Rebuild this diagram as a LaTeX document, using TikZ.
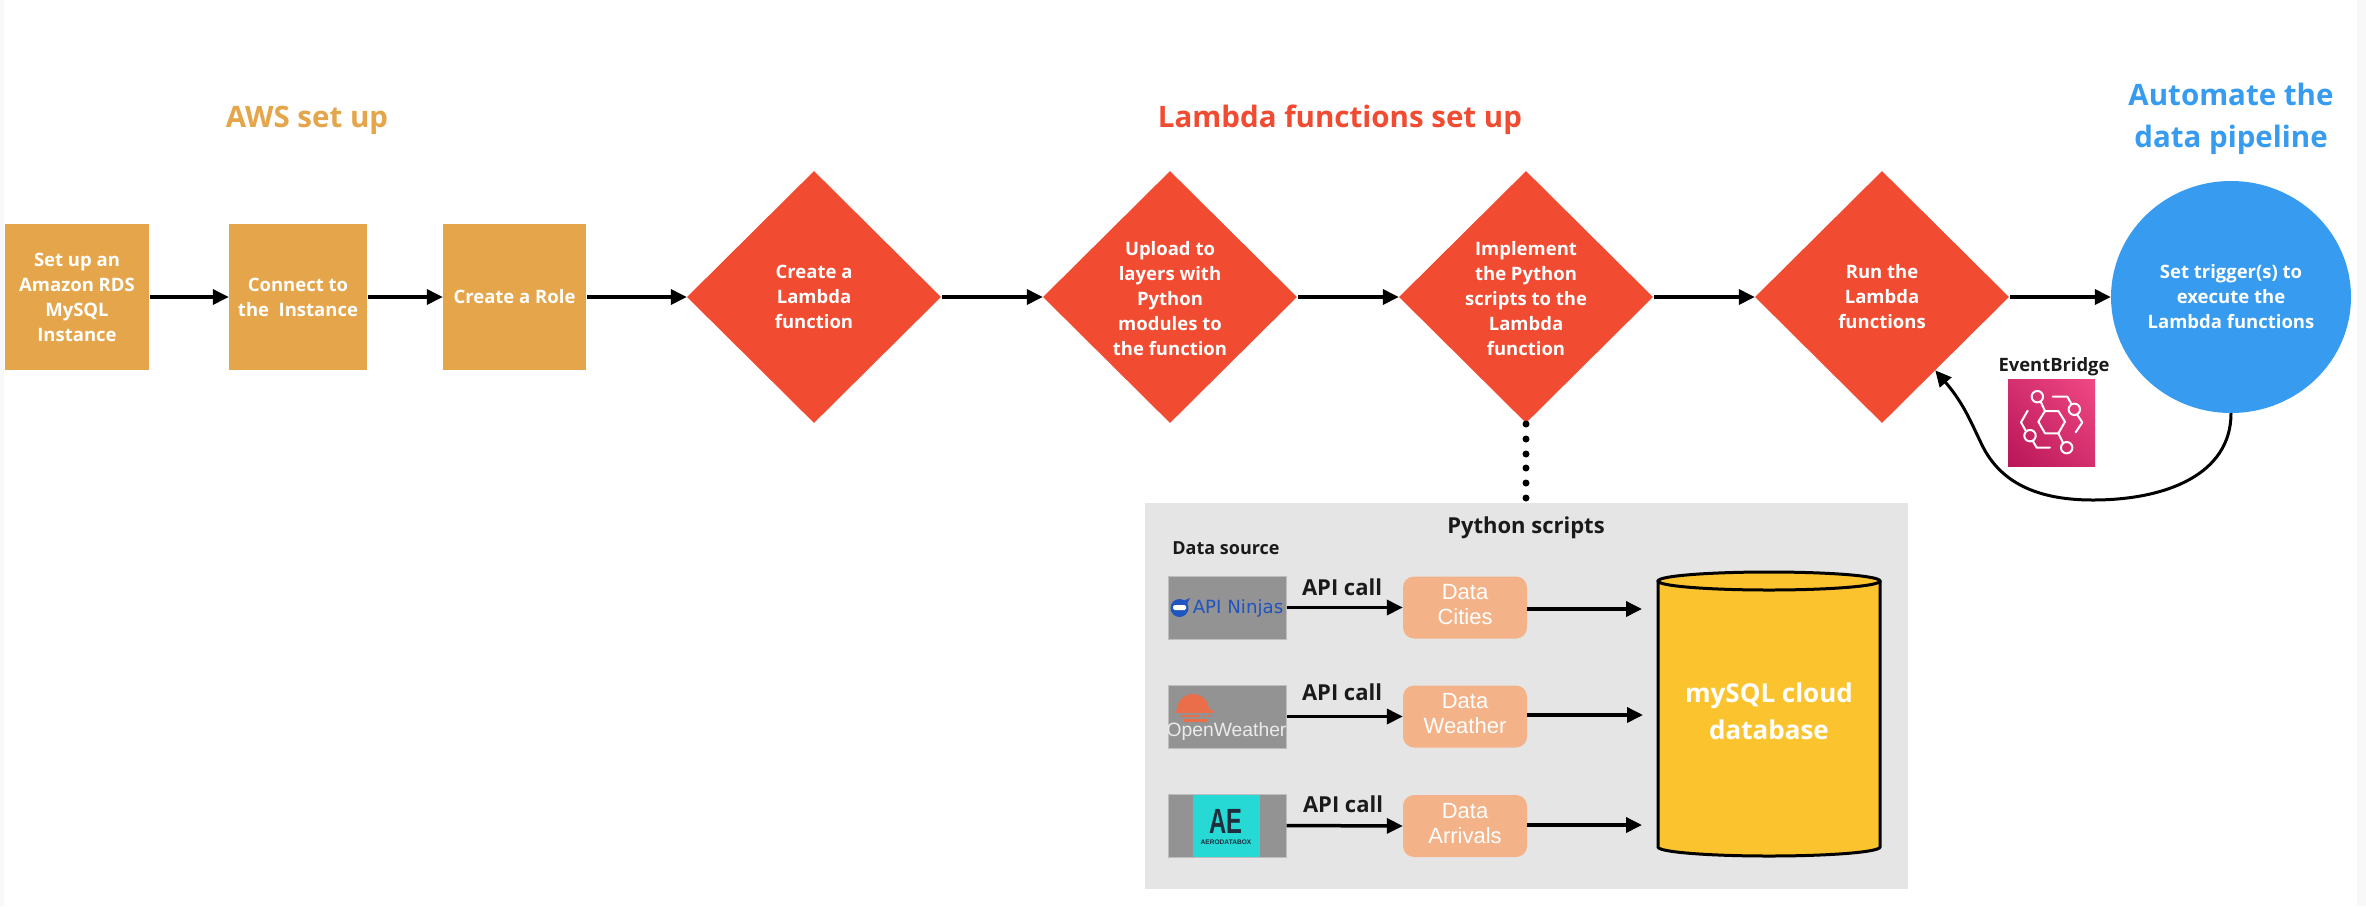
\documentclass[tikz,border=0pt]{standalone}
\usepackage{fontspec}
\usepackage{graphicx}
\setmainfont{Open Sans}
\newfontfamily\arialfont{Liberation Sans}
\newfontfamily\dejafont{DejaVu Sans}
\usetikzlibrary{arrows.meta,shapes.geometric,shadings}
\newcommand\myfs[2]{\fontsize{#1}{#2}\selectfont}
\newcommand\liftup{\rule[-6pt]{0pt}{6pt}}
\newcommand\dropdown{\rule{0pt}{17pt}}
\definecolor{awsorange}{HTML}{E5A64B}
\definecolor{lamred}{HTML}{F14B32}
\definecolor{autoblue}{HTML}{379CEF}
\definecolor{dbyellow}{HTML}{FBC42F}
\definecolor{panelgray}{HTML}{E5E5E5}
\definecolor{datapeach}{HTML}{F4B288}
\definecolor{logogray}{HTML}{939393}
\definecolor{logoedge}{HTML}{BDBDBD}
\definecolor{darktext}{HTML}{1A1A1A}
\definecolor{ninjablue}{HTML}{1F55C0}
\definecolor{sunorange}{HTML}{EB6E4B}
\definecolor{aeteal}{HTML}{26D9D5}
\definecolor{aedark}{HTML}{1F2D3D}
\definecolor{edgegray}{HTML}{F8F8F8}
\definecolor{ebdark}{HTML}{B81658}
\definecolor{ebmid}{HTML}{D42F6E}
\definecolor{eblight}{HTML}{F04884}
\tikzset{
  flow/.style={line width=3.5pt,-{Triangle[length=16pt,width=15pt]},shorten <=1pt},
  awsbox/.style={rectangle,fill=awsorange,text=white,inner sep=0pt,minimum height=146pt,align=center,font=\bfseries\myfs{18.5}{25}},
  lamdia/.style={diamond,aspect=1,fill=lamred,text=white,inner sep=0pt,minimum width=254pt,minimum height=252pt,align=center,font=\bfseries\myfs{18.5}{25}},
  title/.style={inner sep=0pt,align=center,font=\bfseries\myfs{29.5}{42}},
  srcbox/.style={rectangle,fill=logogray,draw=logoedge,line width=1pt,minimum width=118pt,minimum height=63pt,inner sep=0pt},
  databox/.style={rectangle,rounded corners=11pt,fill=datapeach,text=white,minimum width=124pt,minimum height=62pt,inner sep=0pt,align=center,font=\arialfont\myfs{22}{25}},
  apilabel/.style={inner sep=0pt,text=darktext,font=\bfseries\myfs{22}{26}},
  iconline/.style={draw=white,line width=2pt,line cap=round,line join=round},
}
\begin{document}
\begin{tikzpicture}[x=1pt,y=-1pt]
\useasboundingbox (0,0) rectangle (2366,906);
\fill[white] (0,0) rectangle (2366,906);
\fill[edgegray] (0,0) rectangle (4,906);
\fill[edgegray] (2357,0) rectangle (2366,906);

% titles
\node[title,text=awsorange] (t1) at (307,120) {AWS set up};
\node[title,text=lamred] (t2) at (1340,120) {Lambda functions set up};
\node[title,text=autoblue] (t3) at (2231,118.5) {Automate the\\data pipeline};

% top flow
\node[awsbox,minimum width=144pt] (b1) at (77,297) {Set up an\\Amazon RDS\\MySQL\\Instance};
\node[awsbox,minimum width=138pt] (b2) at (298,297) {Connect to\\the\ \ Instance};
\node[awsbox,minimum width=143pt] (b3) at (514.5,297) {Create a Role};
\node[lamdia] (d1) at (814,297) {Create a\\Lambda\\function};
\node[lamdia] (d2) at (1170,297) {\dropdown Upload to\\layers with\\Python\\modules to\\the function};
\node[lamdia] (d3) at (1526,297) {\dropdown Implement\\the Python\\scripts to the\\Lambda\\function};
\node[lamdia] (d4) at (1882,297) {Run the\\Lambda\\functions};
\node[ellipse,fill=autoblue,text=white,inner sep=0pt,minimum width=240pt,minimum height=232pt,align=center,font=\bfseries\myfs{18.5}{25}] (trig) at (2231,297) {Set trigger(s) to\\execute the\\Lambda functions};

\draw[flow] (b1.east) -- (b2.west);
\draw[flow] (b2.east) -- (b3.west);
\draw[flow] (b3.east) -- (d1.west);
\draw[flow] (d1.east) -- (d2.west);
\draw[flow] (d2.east) -- (d3.west);
\draw[flow] (d3.east) -- (d4.west);
\draw[flow] (d4.east) -- (trig.west);

% panel
\node[rectangle,fill=panelgray,inner sep=0pt,minimum width=763pt,minimum height=386pt] (panel) at (1526.5,696) {};

% dotted link
\foreach \yy in {424,439,454,468,483,498} \fill[black] (1526,\yy) circle[radius=3.5pt];

\node[inner sep=0pt,text=darktext,font=\bfseries\myfs{22}{26}] (pytitle) at (1526,528) {Python scripts};
\node[inner sep=0pt,text=darktext,font=\bfseries\myfs{18}{22}] (dsrc) at (1226,548) {Data source};

% sources
\node[srcbox] (s1) at (1227,607.5) {};
\node[srcbox] (s2) at (1227,716.5) {};
\node[srcbox] (s3) at (1227,825.5) {};

% API Ninjas logo
\fill[ninjablue] (1179.5,608) circle[radius=9pt];
\fill[ninjablue] (1183,601) -- (1190,598) -- (1187,604) -- cycle;
\fill[white,rounded corners=1.5pt] (1173,605) rectangle (1186,610);
\node[inner sep=0pt,text=ninjablue,font=\dejafont\myfs{18.2}{22}] (lg1) at (1238,608) {API Ninjas};

% OpenWeather logo
\fill[sunorange] (1177,710) arc[start angle=180,end angle=0,radius=16pt] -- cycle;
\fill[sunorange] (1176,710) rectangle (1213,712.5);
\fill[sunorange] (1182,714.5) rectangle (1200,717);
\fill[sunorange] (1203,714.5) rectangle (1206,717);
\fill[sunorange] (1208,714.5) rectangle (1210,717);
\fill[sunorange] (1184,719) rectangle (1207,721.5);
\node[inner sep=0pt,text=white!92!black,font=\arialfont\myfs{19.3}{24}] (lg2) at (1226.5,731) {OpenWeather};

% AeroDataBox logo
\fill[aeteal] (1193,794.5) rectangle (1260,856.5);
\node[inner sep=0pt,text=aedark,font=\arialfont\bfseries\myfs{35}{36}] (lg3) at (1226,821) {\scalebox{0.68}[1]{AE}};
\node[inner sep=0pt,text=aedark,font=\arialfont\bfseries\myfs{6.6}{8}] (lg4) at (1226,842) {AERODATABOX};

% data boxes
\node[databox] (c1) at (1465,607.5) {Data\\Cities\liftup};
\node[databox] (c2) at (1465,716.5) {Data\\Weather\liftup};
\node[databox] (c3) at (1465,826) {Data\\Arrivals\liftup};

\node[apilabel] (a1) at (1342,587) {API call};
\node[apilabel] (a2) at (1342,692) {API call};
\node[apilabel] (a3) at (1343,804) {API call};

\draw[flow,shorten <=0pt] (s1.east) -- (c1.west);
\draw[flow,shorten <=0pt] (s2.east) -- (c2.west);
\draw[flow,shorten <=0pt] (s3.east) -- (c3.west);

\coordinate (e1) at (1642,609);
\coordinate (e2) at (1643,715);
\coordinate (e3) at (1642,825);
\draw[flow,shorten <=0pt] (c1.east |- e1) -- (e1);
\draw[flow,shorten <=0pt] (c2.east |- e2) -- (e2);
\draw[flow,shorten <=0pt] (c3.east |- e3) -- (e3);

% database
\draw[draw=black,line width=3pt,fill=dbyellow] (1658,581) -- (1658,847)
  arc[start angle=180,end angle=360,x radius=111pt,y radius=9pt] -- (1880,581);
\draw[draw=black,line width=3pt,fill=dbyellow] (1769,581) ellipse[x radius=111pt,y radius=9pt];
\node[inner sep=0pt,text=white,align=center,font=\bfseries\myfs{26}{37}] (dbl) at (1769,711) {mySQL cloud\\database};

% EventBridge
\node[inner sep=0pt,text=darktext,font=\bfseries\myfs{18.4}{22}] (eb) at (2054,367) {EventBridge};
\shade[lower left=ebdark,upper right=eblight,upper left=ebmid,lower right=ebmid]
  (2008,379) rectangle (2095,466);
\begin{scope}[shift={(1990,350)},x=0.33333pt,y=-0.33333pt]
  \draw[iconline] (145,215) -- (165,183) -- (205,183) -- (225,215) -- (205,250) -- (165,250) -- cycle;
  \draw[iconline] (142,140) circle[radius=5.7pt];
  \draw[iconline] (253,178) circle[radius=5.7pt];
  \draw[iconline] (120,257) circle[radius=5.7pt];
  \draw[iconline] (230,293) circle[radius=5.7pt];
  \draw[iconline] (152,155) -- (165,183);
  \draw[iconline] (205,250) -- (219,278);
  \draw[iconline] (188,140) -- (232,140) -- (243,160);
  \draw[iconline] (262,195) -- (277,217) -- (257,247);
  \draw[iconline] (113,182) -- (93,217) -- (107,242);
  \draw[iconline] (128,272) -- (140,293) -- (180,293);
\end{scope}

% trigger feedback
\draw[line width=3pt,-{Triangle[length=16pt,width=15pt]}] (trig.south)
  .. controls (2231,475) and (2165,500) .. (2093,500)
  .. controls (2050,500) and (2005,490) .. (1983,447)
  .. controls (1972,425) and (1965,405) .. (d4.-54);
\end{tikzpicture}
\end{document}
